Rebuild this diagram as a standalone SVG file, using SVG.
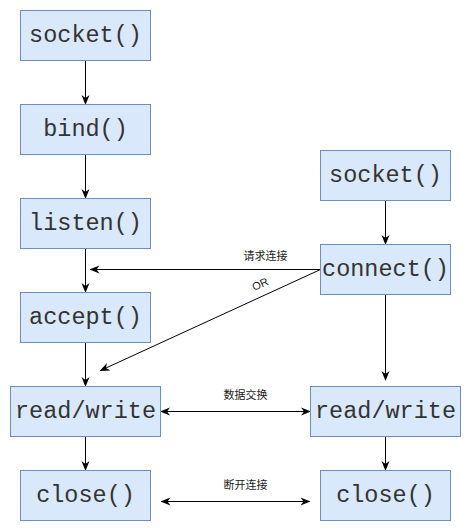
<svg xmlns="http://www.w3.org/2000/svg" width="471" height="531" viewBox="0 0 471 531">
<style>
.box{fill:#dae8fc;stroke:#6c8ebf;stroke-width:1}
.t{font-family:"Liberation Mono","Courier New",monospace;font-size:23.5px;fill:#333;text-anchor:middle;dominant-baseline:central}
.l{font-family:"Liberation Sans","Noto Sans CJK SC",sans-serif;font-size:11px;fill:#1a1a1a;text-anchor:middle;dominant-baseline:central}
.c{stroke:#000;stroke-width:1;fill:none}
</style>
<defs>
<marker id="a" viewBox="0 0 10 10" refX="9" refY="5" markerWidth="10" markerHeight="10" markerUnits="userSpaceOnUse" orient="auto-start-reverse">
<path d="M0,1 L10,5 L0,9 L3,5 Z" fill="#000"/>
</marker>
</defs>
<rect width="471" height="531" fill="#fff"/>
<g id="connectors">
<line class="c" x1="85.5" y1="60.5" x2="85.5" y2="104" marker-end="url(#a)"/>
<line class="c" x1="85.5" y1="154.5" x2="85.5" y2="198" marker-end="url(#a)"/>
<line class="c" x1="85.5" y1="248.5" x2="85.5" y2="292" marker-end="url(#a)"/>
<line class="c" x1="85.5" y1="342.5" x2="85.5" y2="386" marker-end="url(#a)"/>
<line class="c" x1="85.5" y1="436.5" x2="85.5" y2="470" marker-end="url(#a)"/>
<line class="c" x1="385.5" y1="200.5" x2="385.5" y2="244" marker-end="url(#a)"/>
<line class="c" x1="385.5" y1="294.5" x2="385.5" y2="380" marker-end="url(#a)"/>
<line class="c" x1="385.5" y1="436.5" x2="385.5" y2="470" marker-end="url(#a)"/>
<line class="c" x1="320.5" y1="269.5" x2="90.5" y2="269.5" marker-end="url(#a)"/>
<line class="c" x1="320.5" y1="269.5" x2="100.5" y2="370.5" marker-end="url(#a)"/>
<line class="c" x1="161" y1="411.5" x2="310" y2="411.5" marker-start="url(#a)" marker-end="url(#a)"/>
<line class="c" x1="161.5" y1="501.5" x2="309.5" y2="501.5" marker-start="url(#a)" marker-end="url(#a)"/>
<text class="l" x="265.5" y="255.5">请求连接</text>
<text class="l" x="260" y="284" transform="rotate(-24.7 260 284)">OR</text>
<text class="l" x="245.5" y="395">数据交换</text>
<text class="l" x="245.5" y="485">断开连接</text>
</g>
<g id="s_socket"><rect class="box" x="20.5" y="10.5" width="130" height="50"/><text class="t" x="85.5" y="35.5">socket()</text></g>
<g id="s_bind"><rect class="box" x="20.5" y="104.5" width="130" height="50"/><text class="t" x="85.5" y="129.5">bind()</text></g>
<g id="s_listen"><rect class="box" x="20.5" y="198.5" width="130" height="50"/><text class="t" x="85.5" y="223.5">listen()</text></g>
<g id="s_accept"><rect class="box" x="20.5" y="292.5" width="130" height="50"/><text class="t" x="85.5" y="317.5">accept()</text></g>
<g id="s_rw"><rect class="box" x="10.5" y="386.5" width="150" height="50"/><text class="t" x="85.5" y="411.5">read/write</text></g>
<g id="s_close"><rect class="box" x="20.5" y="470.5" width="130" height="50"/><text class="t" x="85.5" y="495.5">close()</text></g>
<g id="c_socket"><rect class="box" x="320.5" y="150.5" width="130" height="50"/><text class="t" x="385.5" y="175.5">socket()</text></g>
<g id="c_connect"><rect class="box" x="320.5" y="244.5" width="130" height="50"/><text class="t" x="385.5" y="269.5">connect()</text></g>
<g id="c_rw"><rect class="box" x="310.5" y="386.5" width="150" height="50"/><text class="t" x="385.5" y="411.5">read/write</text></g>
<g id="c_close"><rect class="box" x="320.5" y="470.5" width="130" height="50"/><text class="t" x="385.5" y="495.5">close()</text></g>
</svg>
